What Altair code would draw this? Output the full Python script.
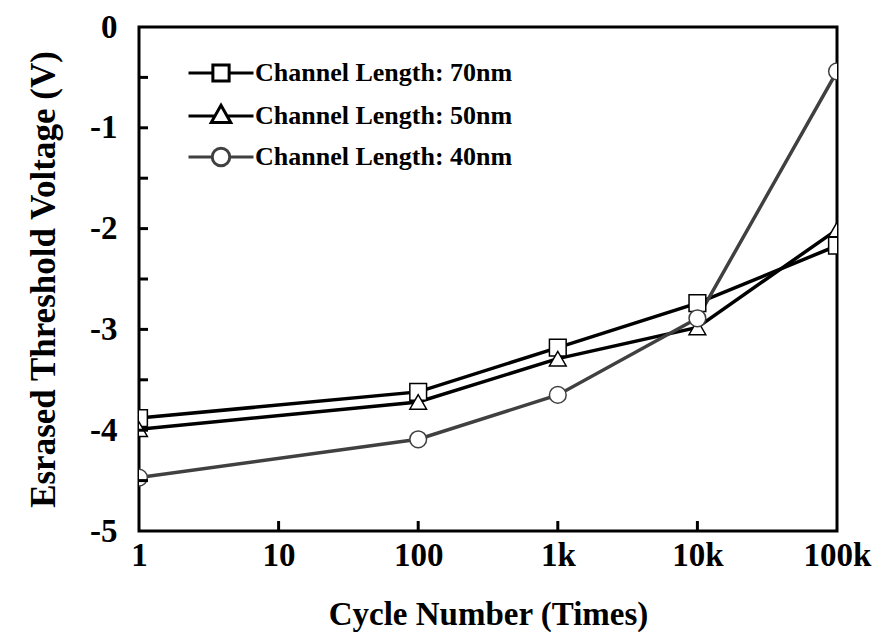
import altair as alt
import pandas as pd

# ---- data ----
cycles = [1, 100, 1000, 10000, 100000]
series_names = ["Channel Length: 70nm", "Channel Length: 50nm", "Channel Length: 40nm"]
vt_70nm = [-3.88, -3.62, -3.18, -2.74, -2.17]
vt_50nm = [-3.99, -3.72, -3.29, -2.98, -2.01]
vt_40nm = [-4.47, -4.09, -3.65, -2.89, -0.44]

x_tick_values = [1, 10, 100, 1000, 10000, 100000]
x_tick_labels = ["1", "10", "100", "1k", "10k", "100k"]
x_inner_ticks = [10, 100, 1000, 10000]
y_tick_values = [-5, -4.5, -4, -3.5, -3, -2.5, -2, -1.5, -1, -0.5, 0]
y_inner_ticks = [-4.5, -4, -3.5, -3, -2.5, -2, -1.5, -1, -0.5]

series_colors = ["#000000", "#000000", "#404040"]

rows = []
for name, vals in zip(series_names, [vt_70nm, vt_50nm, vt_40nm]):
    for c, v in zip(cycles, vals):
        rows.append({"series": name, "cycles": c, "vt": v})
df = pd.DataFrame(rows)
xt_df = pd.DataFrame({"cycles": x_inner_ticks})
yt_df = pd.DataFrame({"vt": y_inner_ticks})

W, H = 698, 504
FONT = "Liberation Serif"

# label expression for x axis
expr = "''"
for v, lab in reversed(list(zip(x_tick_values, x_tick_labels))):
    expr = f"datum.value == {v} ? '{lab}' : ({expr})"

x_scale = alt.Scale(type="log", domain=[1, 100000])
y_scale = alt.Scale(domain=[-5, 0], nice=False, zero=False)

x_axis = alt.Axis(values=x_tick_values, labelExpr=expr, title="Cycle Number (Times)",
                  ticks=False, tickSize=0, domain=False, grid=False,
                  labelPadding=8, titlePadding=26, labelFlush=False, labelOverlap=False,
                  titleFontSize=33)
y_axis = alt.Axis(values=y_tick_values,
                  labelExpr="datum.value % 1 == 0 ? ('' + datum.value) : ''",
                  title="Esrased Threshold Voltage (V)",
                  ticks=False, tickSize=0, domain=False, grid=False,
                  labelPadding=22, titlePadding=28, labelFlush=False, labelOverlap=False,
                  titleFontSize=35)

x_enc = alt.X("cycles:Q", scale=x_scale, axis=x_axis)
y_enc = alt.Y("vt:Q", scale=y_scale, axis=y_axis)

stroke_scale = alt.Scale(domain=series_names, range=series_colors)

base = alt.Chart(df)

lines = base.mark_line(strokeWidth=3.5, clip=True).encode(
    x=x_enc, y=y_enc,
    stroke=alt.Stroke("series:N", scale=stroke_scale, legend=None),
)

points = base.mark_point(filled=True, fill="white", size=280, strokeWidth=1.5,
                         opacity=1, clip=True).encode(
    x=x_enc, y=y_enc,
    shape=alt.Shape("series:N", legend=None,
                    scale=alt.Scale(domain=series_names,
                                    range=["square", "triangle-up", "circle"])),
    stroke=alt.Stroke("series:N", scale=stroke_scale, legend=None),
)

# legend symbols: line with marker in the middle
path_sq = "M-2,0H-0.5M0.5,0H2M-0.5,-0.5H0.5V0.5H-0.5Z"
path_tri = "M-2,0H-0.36M0.36,0H2M0,-0.66L0.6,0.4L-0.6,0.4Z"
path_cir = "M-2,0H-0.54M0.54,0H2M-0.54,0A0.54,0.54,0,1,0,0.54,0A0.54,0.54,0,1,0,-0.54,0Z"

leg = alt.Legend(orient="none", legendX=64, legendY=28, title=None,
                 labelFont=FONT, labelFontSize=26, labelFontWeight="bold",
                 labelColor="black", labelOffset=16, symbolSize=1056,
                 symbolStrokeWidth=3, symbolFillColor="white", symbolOpacity=1,
                 rowPadding=10, padding=0, labelLimit=400)

legend_layer = base.mark_point(filled=True, fill="white", size=1056, strokeWidth=3,
                               opacity=0, clip=True).encode(
    x=x_enc, y=y_enc,
    shape=alt.Shape("series:N", legend=leg,
                    scale=alt.Scale(domain=series_names,
                                    range=[path_sq, path_tri, path_cir])),
    stroke=alt.Stroke("series:N", legend=leg,
                      scale=alt.Scale(domain=series_names, range=series_colors)),
)

x_ticks = alt.Chart(xt_df).mark_rule(color="black", strokeWidth=3).encode(
    x=alt.X("cycles:Q", scale=x_scale, axis=x_axis),
    y=alt.value(H), y2=alt.value(H - 10),
)
y_ticks = alt.Chart(yt_df).mark_rule(color="black", strokeWidth=3).encode(
    y=alt.Y("vt:Q", scale=y_scale, axis=y_axis),
    x=alt.value(0), x2=alt.value(9),
)

chart = alt.layer(lines, points, legend_layer, x_ticks, y_ticks).resolve_scale(
    shape="independent", stroke="independent"
).properties(
    width=W, height=H,
    autosize=alt.AutoSizeParams(type="none"),
    padding={"left": 139, "top": 27, "right": 40, "bottom": 111},
    background="white",
).configure_view(
    stroke="black", strokeWidth=3
).configure_axis(
    labelFont=FONT, labelFontSize=33, labelFontWeight="bold", labelColor="black",
    titleFont=FONT, titleFontWeight="bold", titleColor="black",
)

chart.save("out.html", embed_options={"renderer": "svg", "actions": False})
